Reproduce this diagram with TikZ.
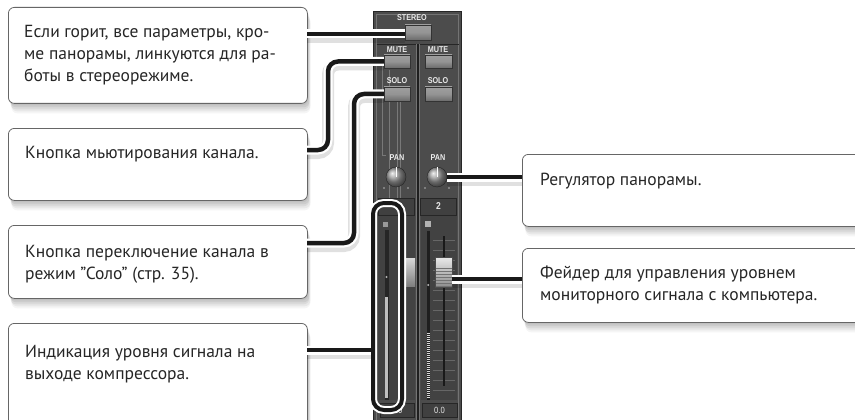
\documentclass[tikz,border=0pt]{standalone}
\usepackage{fontspec}
\setmainfont{PT Sans}
\newfontfamily\panelfont[FakeStretch=0.85]{Liberation Sans}
\begin{document}
\begin{tikzpicture}[x=1pt,y=-1pt,
  callout/.style={rectangle, draw=black!60, line width=0.8pt, fill=white, rounded corners=6pt, inner sep=0pt,
    preaction={fill=black, opacity=0.06, transform canvas={xshift=1pt,yshift=-2pt}},
    preaction={fill=black, opacity=0.06, transform canvas={xshift=2pt,yshift=-4pt}},
    preaction={fill=black, opacity=0.06, transform canvas={xshift=2pt,yshift=-6pt}},
    preaction={fill=black, opacity=0.05, transform canvas={xshift=3pt,yshift=-8pt}},
    preaction={fill=black, opacity=0.04, transform canvas={xshift=3pt,yshift=-10pt}}},
  txt/.style={anchor=base west, inner sep=0pt, align=left, font=\fontsize{17.5}{22}\selectfont, text=black!85},
  conn/.style={draw=black!90, line width=4.5pt, rounded corners=10pt,
    preaction={draw=black, opacity=0.12, line width=12pt, transform canvas={yshift=-3pt}},
    preaction={draw=white, line width=9pt}},
  btn/.style={rectangle, draw=black!80, line width=0.5pt, inner sep=0pt, top color=black!38, bottom color=black!58, middle color=black!42},
  plabel/.style={inner sep=0pt, text=white!92!black, font=\panelfont\bfseries\fontsize{8.5}{9}\selectfont},
  numbox/.style={rectangle, fill=black!75, draw=black!85, line width=0.4pt, inner sep=0pt, text=white!90!black, font=\panelfont\bfseries\fontsize{10}{11}\selectfont},
  knob/.style={circle, minimum size=20pt, inner sep=0pt, draw=black!85, ball color=black!40},
  thinl/.style={draw=white, opacity=0.25, line width=0.5pt}
]
\useasboundingbox (0,0) rectangle (855,420);
\clip (0,0) rectangle (855,420);
\fill[white] (0,0) rectangle (855,420);

% ---------- mixer panel ----------
\fill[black!70] (373,11) rectangle (462,430);
\draw[black!85, line width=1pt] (373.5,11.5) rectangle (461.5,432);
\draw[black!55, line width=0.6pt] (376.5,14.5) rectangle (458.5,432);
\draw[black!85, line width=0.8pt] (376.5,44.5) -- (458.5,44.5);
\draw[black!88, line width=1.2pt] (418,44.5) -- (418,432);
\draw[black!55, line width=0.5pt] (419.5,44.5) -- (419.5,432);
\draw[black!55, line width=0.5pt] (416.5,44.5) -- (416.5,432);
% fader areas
\fill[black!74] (378,216) rectangle (415,400);
\fill[black!74] (421,216) rectangle (457,400);
\foreach \yy in {240,250,...,390}{
  \draw[black!60, line width=0.3pt] (433,\yy) -- (455,\yy);
}
% faint leader lines from the original photo
\draw[thinl] (382,63) -- (382,155) -- (386,155);
\draw[thinl] (389,70) -- (389,200);
\draw[thinl] (397,101) -- (397,200);
\draw[thinl] (400,101) -- (400,200);

% labels and buttons
\node[plabel] (stereolbl) at (412,18) {STEREO};
\node[btn, minimum width=26pt, minimum height=15pt] (stereo) at (418,32.5) {};
\node[plabel] (mutelblL) at (397,49.5) {MUTE};
\node[plabel] (mutelblR) at (438,49.5) {MUTE};
\node[btn, minimum width=26pt, minimum height=13pt] (muteL) at (397,61.5) {};
\node[btn, minimum width=27pt, minimum height=13pt] (muteR) at (438.5,61.5) {};
\node[plabel] (sololblL) at (397,81) {SOLO};
\node[plabel] (sololblR) at (438,81) {SOLO};
\node[btn, minimum width=26pt, minimum height=14pt] (soloL) at (397,94) {};
\node[btn, minimum width=27pt, minimum height=14pt] (soloR) at (438.5,94) {};
\node[plabel] (panlblL) at (397,158) {PAN};
\node[plabel] (panlblR) at (438,158) {PAN};
\node[knob] (knobL) at (396,177) {};
\node[knob] (knobR) at (437,177) {};
\draw[white, line width=1pt] (knobL.center) -- (knobL.north);
\draw[white, line width=1pt] (knobR.center) -- (knobR.north);
\foreach \xx in {384,408,425,449}{
  \fill[black!30] (\xx,188) circle (0.8pt);
}
% channel number boxes
\node[numbox, minimum width=36pt, minimum height=17pt] (numL) at (396,206.5) {};
\node[numbox, minimum width=36pt, minimum height=17pt] (numR) at (438.5,206.5) {2};
% value boxes
\node[numbox, minimum width=34pt, minimum height=14pt, font=\panelfont\fontsize{9}{10}\selectfont] (valL) at (397,410) {0.0};
\node[numbox, minimum width=35pt, minimum height=14pt, font=\panelfont\fontsize{9}{10}\selectfont] (valR) at (439.5,410) {0.0};

% left channel meter & fader
\fill[black!40] (383,222) rectangle (388,227);
\fill[black!85] (384.5,230) rectangle (388.5,400);
\fill[black!25] (385,297) rectangle (388,398);
\fill[black!30] (386.5,277) circle (1.2pt);
\node[rectangle, inner sep=0pt, minimum width=14pt, minimum height=28pt, top color=black!15, bottom color=black!50] (faderL) at (408,272) {};
% right channel meter & fader
\fill[black!30] (425,221) rectangle (431,227);
\fill[black!88] (426.5,231) rectangle (430,400);
\foreach \yy in {333,335,...,397}{
  \draw[white!85!black, line width=0.9pt] (426.8,\yy) -- (429.7,\yy);
}
\fill[black!30] (428.2,285) circle (1.2pt);
\fill[black!90] (442.5,236) rectangle (444.5,386);
\node[rectangle, inner sep=0pt, minimum width=17pt, minimum height=30pt, top color=black!8, bottom color=black!45, draw=black!70, line width=0.4pt] (faderR) at (443.5,272) {};
\foreach \yy in {268,271,...,286}{
  \draw[black!55, line width=0.4pt] (435.5,\yy) -- (451.5,\yy);
}

% highlight around the left meter
\node[rectangle, rounded corners=11pt, minimum width=29pt, minimum height=207pt, inner sep=0pt,
  draw=black!90, line width=4pt, preaction={draw=white, line width=8pt}] (meter) at (387.5,306.5) {};

% ---------- callout boxes ----------
\node[callout, anchor=north west, minimum width=299pt, minimum height=96pt] (b1) at (8,7) {};
\node[callout, anchor=north west, minimum width=299pt, minimum height=72pt] (b2) at (8,128) {};
\node[callout, anchor=north west, minimum width=299pt, minimum height=73pt] (b3) at (8,225) {};
\node[callout, anchor=north west, minimum width=299pt, minimum height=105pt] (b4) at (8,323) {};
\node[callout, anchor=north west, minimum width=350pt, minimum height=72pt] (r1) at (522,154) {};
\node[callout, anchor=north west, minimum width=350pt, minimum height=74pt] (r2) at (522,248) {};

\node[txt] (t1) at (24,82) {Если горит, все параметры, кро-\\ме панорамы, линкуются для ра-\\боты в стереорежиме.};
\node[txt] (t2) at (25,158) {Кнопка мьютирования канала.};
\node[txt] (t3) at (25,279) {Кнопка переключение канала в\\режим "Соло" (стр. 35).};
\node[txt] (t4) at (25,379) {Индикация уровня сигнала на\\выходе компрессора.};
\node[txt] (t5) at (540,185) {Регулятор панорамы.};
\node[txt] (t6) at (540,300) {Фейдер для управления уровнем\\мониторного сигнала с компьютера.};

% ---------- connectors ----------
\coordinate (c1) at (307,34);
\draw[conn] (c1) -- (c1 -| stereo.west);
\coordinate (c2) at (307,150);
\draw[conn] (c2) -- (328,150) -- (328,61.5) -- (muteL.west);
\coordinate (c3) at (307,243);
\draw[conn] (c3) -- (354,243) -- (354,94) -- (soloL.west);
\coordinate (c4) at (307,350);
\draw[conn] (c4) -- (c4 -| meter.west);
\draw[conn] (knobR.east) -- (knobR.east -| r1.west);
\coordinate (c6) at (452,279);
\draw[conn] (c6) -- (c6 -| r2.west);
\end{tikzpicture}
\end{document}
